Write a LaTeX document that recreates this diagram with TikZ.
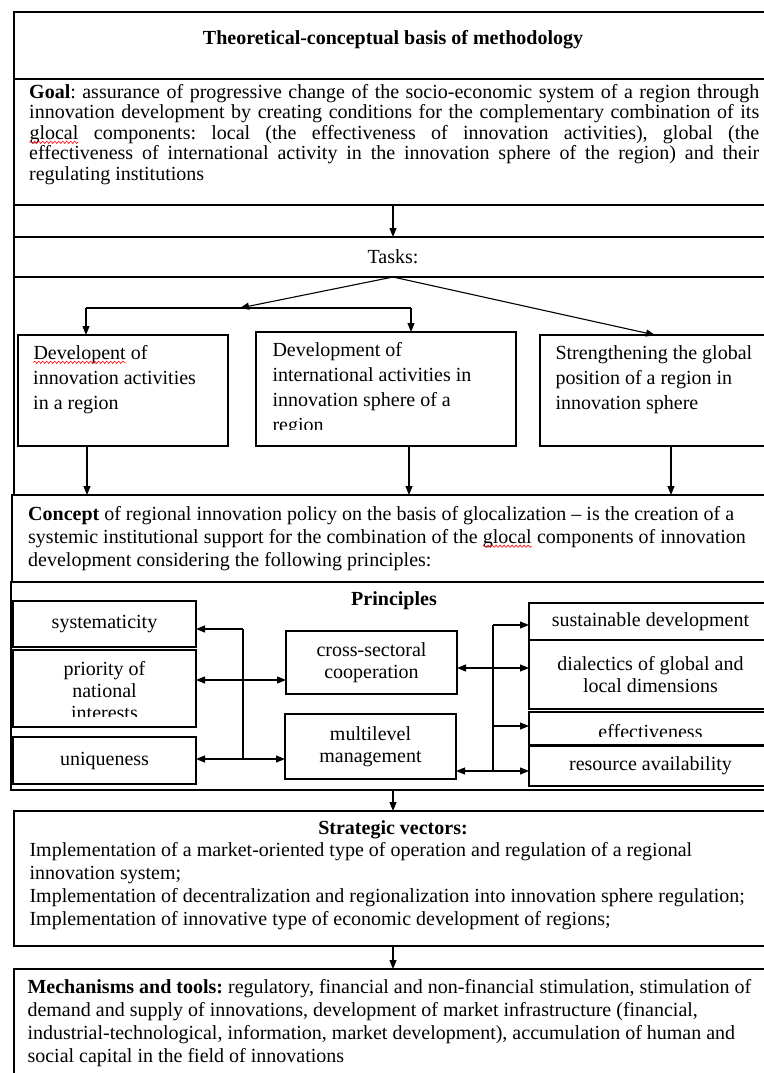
\documentclass[tikz,border=0pt]{standalone}
\usepackage{fontspec}
\setmainfont{Liberation Serif}
\usepackage{tikz}
\usetikzlibrary{arrows.meta,decorations.pathmorphing}
\frenchspacing

\newcommand{\spellmark}[1]{\tikz[baseline=(w.base)]{\node[inner sep=0,outer sep=0] (w) {#1};
    \draw[red,line width=0.6pt,decorate,decoration={snake,amplitude=1.1pt,segment length=4pt}]
        ([yshift=-3pt]w.base west) -- ([yshift=-3pt]w.base east);}}

\begin{document}
\begin{tikzpicture}[x=1pt,y=-1pt,>={Triangle[length=9pt,width=7pt]},line width=1.1pt,font=\fontsize{20}{23}\selectfont,
    row_box/.style={draw,inner sep=0,outer sep=0,minimum width=758},
    small_box/.style={draw,inner sep=0,outer sep=0,align=center,font=\fontsize{20}{22}\selectfont},
    txt_node/.style={inner sep=0,anchor=north west,align=left}]
    \useasboundingbox (0,0) rectangle (763,1073);
    % upper frame
    \node[row_box,minimum height=67] (title) at (393,45.5) {};
    \node[inner sep=0] (titletxt) at (393,40) {\textbf{Theoretical-conceptual basis of methodology}};
    \node[row_box,minimum height=126] (goal) at (393,142) {};
    \node[row_box,minimum height=32] (gap) at (393,221) {};
    \node[row_box,minimum height=40] (tasks) at (393,257) {Tasks:};
    \node[row_box,minimum height=218] (taskarea) at (393,386) {};
    \node[txt_node,text width=730,align=justify,font=\fontsize{20}{20.5}\selectfont] (goaltxt) at (29,84)
        {\textbf{Goal}: assurance of progressive change of the socio-economic system of a region through\linebreak
        innovation development by creating conditions for the complementary combination of its\linebreak
        \spellmark{glocal} components: local (the effectiveness of innovation activities), global (the\linebreak
        effectiveness of international activity in the innovation sphere of the region) and their\linebreak
        regulating institutions};
    \draw[->] (goal.south) -- (tasks.north);

    % tasks
    \node[small_box,minimum width=210,minimum height=111] (t1) at (123,390.5) {};
    \node[small_box,minimum width=260,minimum height=114] (t2) at (386,389) {};
    \node[small_box,minimum width=232,minimum height=111] (t3) at (656,390.5) {};
    \node[txt_node,font=\fontsize{20}{25}\selectfont] (t1txt) at (33,345) {\spellmark{Developent} of\\innovation activities\\in a region};
    \begin{scope}
        \clip (256,332) rectangle (516,429);
        \node[txt_node,font=\fontsize{20}{25}\selectfont] (t2txt) at (272,342) {Development of\\international activities in\\innovation sphere of a\\region};
    \end{scope}
    \node[txt_node,font=\fontsize{20}{25}\selectfont] (t3txt) at (555,345) {Strengthening the global\\position of a region in\\innovation sphere};
    \coordinate (fork) at (240,308);
    \coordinate (f1) at (86,308);
    \coordinate (f2) at (411,308);
    \coordinate (f3) at (655,335);
    \draw[->] (tasks.south) -- (fork);
    \draw (f1) -- (f2);
    \draw[->] (f1) -- (f1 |- t1.north);
    \draw[->] (f2) -- (f2 |- t2.north);
    \draw[->] (tasks.south) -- (f3);

    % concept
    \node[row_box,minimum width=760,minimum height=87] (concept) at (392,538.5) {};
    \node[txt_node] (concepttxt) at (28,506)
        {\textbf{Concept} of regional innovation policy on the basis of glocalization – is the creation of a\\
        systemic institutional support for the combination of the \spellmark{glocal} components of innovation\\
        development considering the following principles:};
    \coordinate (c1) at (87,495);
    \coordinate (c2) at (409,495);
    \coordinate (c3) at (671,495);
    \draw[->] (c1 |- t1.south) -- (c1);
    \draw[->] (c2 |- t2.south) -- (c2);
    \draw[->] (c3 |- t3.south) -- (c3);

    % principles
    \node[row_box,minimum width=761,minimum height=208] (prin) at (391.5,686) {};
    \node[inner sep=0] (printitle) at (394,601) {\textbf{Principles}};
    \node[small_box,minimum width=183,minimum height=46] (sys) at (104.5,624) {systematicity};
    \node[small_box,minimum width=183,minimum height=77] (prio) at (104.5,688.5) {};
    \node[small_box,minimum width=183,minimum height=47] (uniq) at (104.5,760.5) {uniqueness};
    \node[small_box,minimum width=171,minimum height=63] (cross) at (371.5,662.5) {cross-sectoral\\cooperation};
    \node[small_box,minimum width=171,minimum height=65] (multi) at (370.5,746.5) {multilevel\\management};
    \node[small_box,minimum width=243,minimum height=37] (sust) at (650.5,621.5) {sustainable development};
    \node[small_box,minimum width=243,minimum height=69] (dial) at (650.5,674.5) {dialectics of global and\\local dimensions};
    \node[small_box,minimum width=243,minimum height=33] (eff) at (650.5,728.5) {};
    \node[small_box,minimum width=243,minimum height=40] (res) at (650.5,766) {resource availability};
    \draw[line width=2pt] (sys.south west) -- (sys.south east);
    \begin{scope}
        \clip (13,650) rectangle (196,716);
        \node[inner sep=0,anchor=north,align=center,font=\fontsize{20}{22}\selectfont] (priotxt) at (104.5,661) {priority of\\national\\interests};
    \end{scope}
    \begin{scope}
        \clip (529,712) rectangle (772,736);
        \node[inner sep=0] (efftxt) at (650.5,732) {effectiveness};
    \end{scope}
    \coordinate (lt) at (243,629);
    \coordinate (lm) at (243,680);
    \coordinate (lb) at (243,759);
    \coordinate (rt) at (493,625);
    \coordinate (rm) at (493,668);
    \coordinate (re) at (493,726);
    \coordinate (rb) at (493,771);
    \draw (lt) -- (lb);
    \draw[->] (lt) -- (lt -| sys.east);
    \draw[<->] (lm -| prio.east) -- (lm -| cross.west);
    \draw[<->] (lb -| uniq.east) -- (lb -| multi.west);
    \draw (rt) -- (rb);
    \draw[->] (rt) -- (rt -| sust.west);
    \draw[<->] (rm -| cross.east) -- (rm -| dial.west);
    \draw[->] (re) -- (re -| eff.west);
    \draw[<->] (rb -| multi.east) -- (rb -| res.west);

    % strategic vectors
    \node[row_box,minimum height=135] (strat) at (393,878.5) {};
    \node[inner sep=0] (strattitle) at (393,830) {\textbf{Strategic vectors:}};
    \node[txt_node] (strattxt) at (29,842)
        {Implementation of a market-oriented type of operation and regulation of a regional\\
        innovation system;\\
        Implementation of decentralization and regionalization into innovation sphere regulation;\\
        Implementation of innovative type of economic development of regions;};
    \draw[->] (prin.south -| strat.north) -- (strat.north);

    % mechanisms
    \node[row_box,minimum height=121] (mech) at (393,1029.5) {};
    \node[txt_node] (mechtxt) at (27,979)
        {\textbf{Mechanisms and tools:} regulatory, financial and non-financial stimulation, stimulation of\\
        demand and supply of innovations, development of market infrastructure (financial,\\
        industrial-technological, information, market development), accumulation of human and\\
        social capital in the field of innovations};
    \draw[->] (strat.south) -- (mech.north);
\end{tikzpicture}
\end{document}
